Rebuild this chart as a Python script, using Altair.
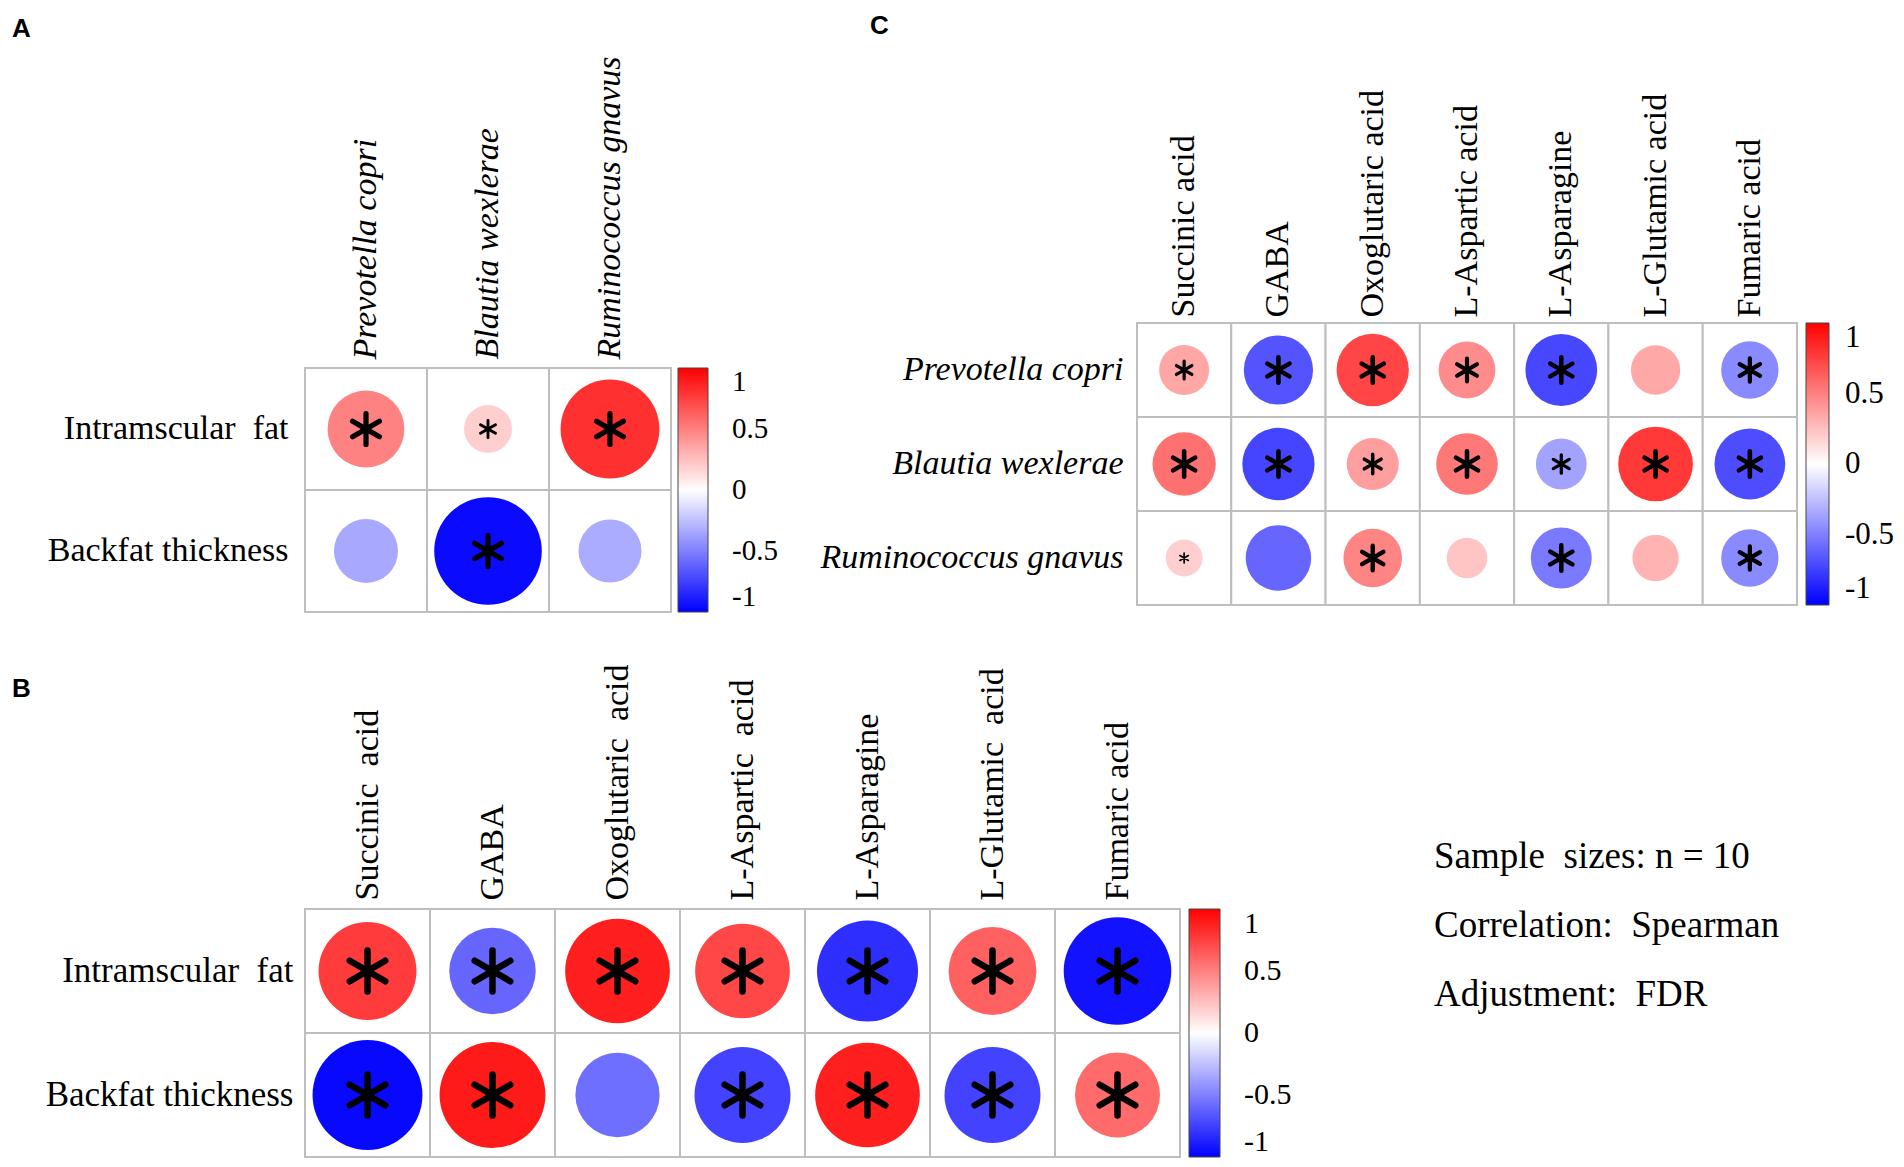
import altair as alt
import pandas as pd

SERIF = "Liberation Serif"
SANS = "Liberation Sans"
ASTERISK = "M0,-1L0,1M-0.866,-0.5L0.866,0.5M-0.866,0.5L0.866,-0.5"

# ---------------- data ----------------
a_rows = ["Intramscular\u00a0 fat", "Backfat thickness"]
a_cols = ["Prevotella copri", "Blautia wexlerae", "Ruminococcus gnavus"]
a_r = [[0.49, 0.19, 0.81],
       [-0.34, -0.96, -0.33]]
a_sig = [[1, 1, 1],
         [0, 1, 0]]

b_rows = ["Intramscular\u00a0 fat", "Backfat thickness"]
b_cols = ["Succinic\u00a0 acid", "GABA", "Oxoglutaric\u00a0 acid", "L-Aspartic\u00a0 acid",
          "L-Asparagine", "L-Glutamic\u00a0 acid", "Fumaric acid"]
b_r = [[0.77, -0.60, 0.88, 0.72, -0.82, 0.62, -0.93],
       [-0.97, 0.90, -0.57, -0.74, 0.88, -0.74, 0.58]]
b_sig = [[1, 1, 1, 1, 1, 1, 1],
         [1, 1, 0, 1, 1, 1, 1]]

c_rows = ["Prevotella copri", "Blautia wexlerae", "Ruminococcus gnavus"]
c_cols = ["Succinic acid", "GABA", "Oxoglutaric acid", "L-Aspartic acid",
          "L-Asparagine", "L-Glutamic acid", "Fumaric acid"]
c_r = [[0.35, -0.67, 0.73, 0.45, -0.72, 0.34, -0.46],
       [0.56, -0.73, 0.38, 0.53, -0.36, 0.78, -0.70],
       [0.19, -0.60, 0.48, 0.23, -0.52, 0.30, -0.46]]
c_sig = [[1, 1, 1, 1, 1, 0, 1],
         [1, 1, 1, 1, 1, 1, 1],
         [1, 0, 1, 0, 1, 0, 1]]

info_lines = ["Sample\u00a0 sizes: n = 10", "Correlation:\u00a0 Spearman", "Adjustment:\u00a0 FDR"]

legend_values = [-1, -0.5, 0, 0.5, 1]


def panel(rows, cols, r, sig, cw, ch, letter, cfg):
    recs = []
    for i, rw in enumerate(rows):
        for j, cl in enumerate(cols):
            recs.append({"row": rw, "col": cl, "r": r[i][j], "absr": abs(r[i][j]), "sig": sig[i][j]})
    df = pd.DataFrame(recs)
    top = cfg.get("top", 0)
    W = cw * len(cols)
    H = ch * len(rows) + top
    # Vega circle: diameter = sqrt(size); full circle (|r| = 1) is 90% of the cell
    max_size = (0.9 * min(cw, ch)) ** 2
    ypo = top / (2 * ch)

    x = alt.X("col:N", sort=cols, title=None,
              scale=alt.Scale(paddingInner=0, paddingOuter=0),
              axis=alt.Axis(orient="top", labelAngle=270, labelFont=SERIF,
                            labelFontSize=cfg["xfs"], labelFontStyle=cfg["xstyle"],
                            labelColor="black", labelPadding=cfg["xpad"], labelLimit=1000,
                            offset=-top, domain=False, ticks=False, labelOverlap=False))
    y = alt.Y("row:N", sort=rows, title=None,
              scale=alt.Scale(paddingInner=0, paddingOuter=ypo, align=1),
              axis=alt.Axis(labelFont=SERIF, labelFontSize=cfg["yfs"],
                            labelFontStyle=cfg["ystyle"], labelColor="black",
                            labelPadding=cfg["ypad"], labelLimit=1000,
                            domain=False, ticks=False, labelOverlap=False))
    legend_kw = dict(title=None, orient="none", legendX=cfg["lx"], legendY=top,
                     direction="vertical", type="gradient",
                     gradientLength=ch * len(rows),
                     gradientThickness=cfg["lthick"],
                     gradientStrokeColor="#444444", gradientStrokeWidth=1,
                     values=legend_values, labelFont=SERIF,
                     labelFontSize=cfg["lfs"], labelColor="black",
                     labelOffset=cfg["llab"], labelOverlap=False, padding=0,
                     labelExpr="datum.value < 0 ? '-' + format(-datum.value, '') : format(datum.value, '')")
    base = alt.Chart(df).encode(x=x, y=y)
    grid = base.mark_rect(fill="white", stroke="#BEBEBE", strokeWidth=2)
    circles = base.mark_circle(opacity=1).encode(
        size=alt.Size("absr:Q", scale=alt.Scale(domain=[0, 1], range=[0, max_size]), legend=None),
        color=alt.Color("r:Q",
                        scale=alt.Scale(domain=[-1, 0, 1], range=["#0000FF", "#FFFFFF", "#FF0000"],
                                        interpolate="rgb"),
                        legend=alt.Legend(**legend_kw)))
    stars = base.transform_filter("datum.sig == 1").mark_point(
        shape=ASTERISK, filled=False, color="black", stroke="black", opacity=1,
        strokeCap="round").encode(
        size=alt.Size("absr:Q", scale=alt.Scale(type="pow", exponent=2, domain=[0, cfg["rcap"]],
                                                range=[0, cfg["span"] ** 2], clamp=True), legend=None),
        strokeWidth=alt.StrokeWidth("absr:Q", scale=alt.Scale(domain=[0, cfg["rcap"]],
                                                              range=[0, cfg["sw"]], clamp=True),
                                    legend=None))
    title = alt.TitleParams(text=letter, anchor="start", frame="group", font=SANS,
                            fontSize=26, fontWeight="bold", color="black",
                            dx=cfg["tdx"], dy=cfg["tdy"], offset=cfg["toff"])
    return (alt.layer(grid, circles, stars)
            .resolve_scale(size="independent", strokeWidth="independent")
            .properties(width=W, height=H, title=title))


A = panel(a_rows, a_cols, a_r, a_sig, 122, 122, "A",
          dict(top=45, xfs=34, xstyle="italic", xpad=9, yfs=34, ystyle="normal", ypad=17,
               lx=373, lthick=30, lfs=29, llab=24, rcap=0.34, span=31, sw=5.2,
               tdx=-293, tdy=0, toff=14))
C = panel(c_rows, c_cols, c_r, c_sig, 660 / 7, 94, "C",
          dict(xfs=34, xstyle="normal", xpad=6, yfs=34, ystyle="italic", ypad=14,
               lx=669, lthick=23, lfs=31, llab=16, rcap=0.5, span=25.5, sw=4.6,
               tdx=-267, tdy=0, toff=50))
B = panel(b_rows, b_cols, b_r, b_sig, 125, 124, "B",
          dict(xfs=34, xstyle="normal", xpad=9, yfs=35, ystyle="normal", ypad=12,
               lx=884, lthick=31, lfs=30, llab=24, rcap=0.5, span=41, sw=6.5,
               tdx=-293, tdy=38, toff=0))

tdf = pd.DataFrame({"line": info_lines})
T = alt.Chart(tdf).mark_text(align="left", baseline="middle", font=SERIF, fontSize=37,
                             color="black", dy=-52).encode(
    y=alt.Y("line:N", sort=info_lines, axis=None,
            scale=alt.Scale(type="point", padding=0)),
    x=alt.value(0),
    text="line:N").properties(width=400, height=138)

indep = dict(color="independent", size="independent", strokeWidth="independent",
             x="independent", y="independent")

row1 = alt.hconcat(A, C, spacing=466, bounds="flush").resolve_scale(**indep)
row2 = alt.hconcat(B, T, spacing=254, bounds="flush").resolve_scale(**indep)

chart = (alt.vconcat(row1, row2, spacing=586, bounds="flush")
         .properties(padding={"left": 4, "top": 5, "right": 0, "bottom": 0})
         .resolve_scale(**indep)
         .configure(background="white")
         .configure_view(stroke="transparent", strokeWidth=0))

chart.save("out.html", embed_options={"renderer": "svg", "actions": False})
